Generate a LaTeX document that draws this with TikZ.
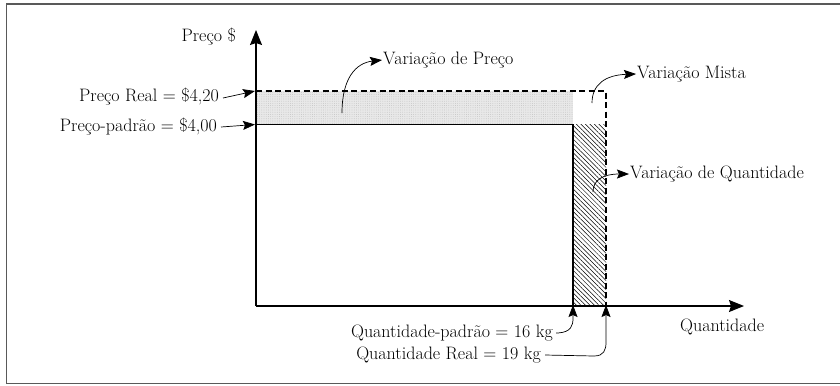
\documentclass[tikz,border=0pt]{standalone}
\usetikzlibrary{arrows.meta,patterns.meta}
\begin{document}
\begin{tikzpicture}[x=1bp,y=-1bp,
  lbl/.style={inner sep=0pt,font=\fontsize{18bp}{21bp}\selectfont},
  ptr/.style={line width=0.7bp,-{Stealth[length=12bp,width=9bp,inset=2bp]}},
  axis/.style={line width=1.1bp,-{Stealth[length=15bp,width=12bp,inset=2bp]}},
  edgeline/.style={line width=1.1bp},
  dashline/.style={line width=1.1bp,dash pattern=on 6bp off 3.5bp}]
\useasboundingbox (0,0) rectangle (840,385);
% frame
\draw[line width=1.2bp,gray!70!black] (840,4) -- (6.5,4) -- (6.5,383.5) -- (840,383.5);
% coordinates
\coordinate (O) at (256,306);
\coordinate (Ytop) at (256,30);
\coordinate (Xend) at (744,306);
\coordinate (PRl) at (256,91);
\coordinate (PSl) at (256,124.5);
\coordinate (QSc) at (573,124.5);
\coordinate (QRc) at (606,91);
\coordinate (QSb) at (573,306);
\coordinate (QRb) at (606,306);
% shaded price variance
\fill[gray!18] (PRl) rectangle (QSc);
\fill[pattern={Dots[distance=2.2bp,radius=0.35bp]},pattern color=gray!60] (PRl) rectangle (QSc);
% hatched quantity variance
\fill[pattern={Lines[angle=-45,distance=3.2bp,line width=0.5bp]}] (QSc) rectangle (QRb);
% lines
\draw[edgeline] (PSl) -- (QSc) -- (QSb);
\draw[dashline] (PRl) -- (QRc) -- (QRb);
% axes
\draw[axis] (O) -- (Ytop);
\draw[axis] (O) -- (Xend);
% labels
\node[lbl,anchor=east] (ylab) at (236,37) {Preço \$};
\node[lbl,anchor=west] (xlab) at (680,327) {Quantidade};
\node[lbl,anchor=east] (pr) at (219,97) {Preço Real = \$4,20};
\node[lbl,anchor=east] (ps) at (217,127) {Preço-padrão = \$4,00};
\node[lbl,anchor=west] (vp) at (383,60) {Variação de Preço};
\node[lbl,anchor=west] (vm) at (637,74) {Variação Mista};
\node[lbl,anchor=west] (vq) at (630,174) {Variação de Quantidade};
\node[lbl,anchor=east] (qs) at (553,333) {Quantidade-padrão = 16 kg};
\node[lbl,anchor=east] (qr) at (541,355) {Quantidade Real = 19 kg};
% pointers
\draw[ptr] ([xshift=4bp,yshift=-1bp]pr.east) -- ([xshift=-1bp]PRl);
\draw[ptr] ([xshift=4bp]ps.east) -- ([xshift=-1bp]PSl);
\coordinate (vps) at (342,113);
\coordinate (vms) at (592,103);
\coordinate (vqs) at (593,192);
\draw[ptr] (vps) .. controls (342,78) and (356,63) .. ([xshift=-1bp]vp.west);
\draw[ptr] (vms) .. controls (592,84) and (606,75) .. ([xshift=-1bp]vm.west);
\draw[ptr] (vqs) .. controls (593,180) and (603,174) .. ([xshift=-1bp]vq.west);
\draw[ptr] ([xshift=3bp]qs.east) -- (558,333) .. controls (571,332) and (573,326) .. (573,318) -- ([yshift=1bp]QSb);
\draw[ptr] ([xshift=4bp]qr.east) -- (594,356) .. controls (604,356) and (606,350) .. (606,342) -- ([yshift=1bp]QRb);
\end{tikzpicture}
\end{document}
